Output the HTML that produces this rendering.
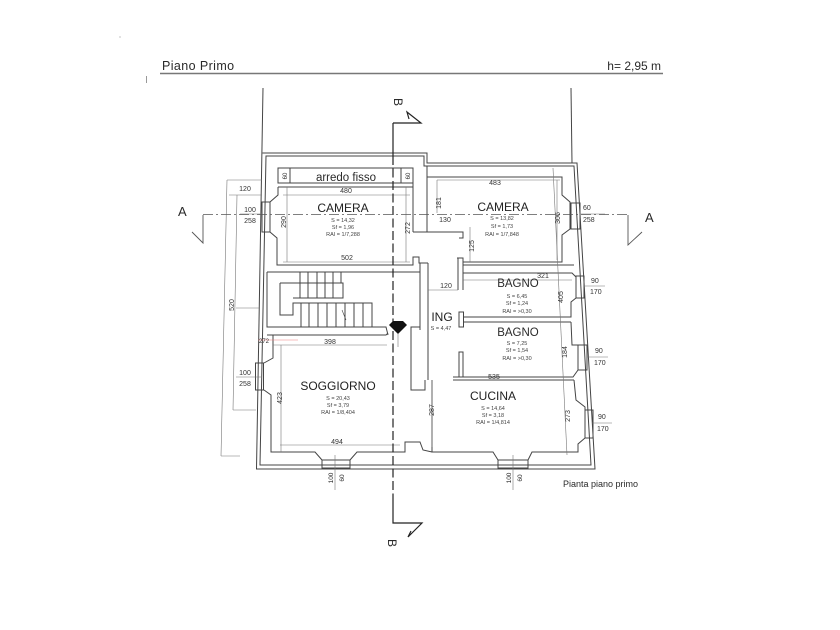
<!DOCTYPE html>
<html><head><meta charset="utf-8"><style>
html,body{margin:0;padding:0;background:#fff;}
svg{display:block}
text{font-family:"Liberation Sans",sans-serif;fill:#2a2a2a}
.d{font-size:7px;fill:#333}
.s{font-size:5.5px;fill:#444}
.r{font-size:12px;fill:#222}
</style></head><body>
<svg width="840" height="630" viewBox="0 0 840 630" xmlns="http://www.w3.org/2000/svg">
<!-- header -->
<text x="162" y="70" font-size="12.5" letter-spacing="0.4" fill="#444">Piano Primo</text>
<text x="661" y="70" font-size="12" text-anchor="end" fill="#444">h= 2,95 m</text>
<line x1="160" y1="73.5" x2="663" y2="73.5" stroke="#777" stroke-width="1.6"/>
<line x1="146.5" y1="76" x2="146.5" y2="83" stroke="#999" stroke-width="1"/>
<circle cx="120" cy="37" r="0.6" fill="#999"/>

<g fill="none" stroke="#444" stroke-width="1">
<!-- outer walls -->
<path d="M263,88 L256.5,469 L595,469 L577,163 L427,163 L427,153 L262.5,153"/>
<path d="M266,156 L424,156 L424,166 L574,166 L591,465 L260,465 Z"/>
<path d="M571,88 L572,163"/>

<!-- camera left -->
<rect x="278" y="168" width="135" height="15"/>
<path d="M290,168 V183 M401,168 V183 M278,187 H413"/>
<path d="M278,187 V195 L270,202 V232 L277,238 V265 H413 M413,168 V232"/>
<rect x="262" y="202" width="8" height="30"/>
<path d="M405,265 H413 V257 H419 V263 H428"/>
<path d="M413,232 H463 V238 H459"/>
<path d="M427,166 V232"/>

<!-- camera right -->
<path d="M427,177 H562 V195 L570,202 V229 L562,235 V262 H463"/>
<rect x="571" y="203" width="9" height="26"/>
<path d="M457,258 H463 V265 H574 M458,258 V290 M463,265 V290"/>

<!-- bagno 1 -->
<path d="M463,273 H572 L576,277 M576,298 L571,302 V317 H463 M463,322 H571"/>
<rect x="576" y="276" width="8" height="22"/>
<rect x="459" y="312" width="4.5" height="15"/>

<!-- bagno 2 -->
<path d="M571,322 L572,345 H578 M578,370 L573,377 H453 M453,380 H574"/>
<rect x="578" y="345" width="9" height="25"/>
<rect x="459" y="352" width="4" height="25"/>

<!-- cucina -->
<path d="M574,380 L576,400 L585,407 V410 M585,438 L578,444 V452 H532 L528,460 M498,460 L493,452 H432 V380"/>
<rect x="585" y="410" width="8" height="28"/>
<rect x="498" y="460" width="30" height="8"/>

<!-- corridor walls -->
<path d="M428,263 V380 M420,263 V330 M420,327 H411 V390 H425 V380"/>

<!-- stairs -->
<path d="M267,272 H420 M267,272 V327 H386 L388,335"/>
<path d="M280,283 H343 V298 H293 M280,283 V315 H293 V303 H372 V327"/>
<path d="M300,272 V298 M308,272 V298 M317,272 V298 M325,272 V298 M333,272 V298 M341,272 V283"/>
<path d="M301,303 V327 M309,303 V327 M318,303 V327 M327,303 V327 M336,303 V327 M345,303 V327 M354,303 V327 M363,303 V327"/>
<path d="M346,320 L342,310" stroke-width="0.6"/>

<!-- soggiorno -->
<path d="M267,335 H386 L388,333"/>
<path d="M273,335 V358 L264,363 M264,390 L271,395 V452 H315 L322,460 M350,460 L357,452 H405 V442 H420 L423,450 L432,452"/>
<rect x="255.5" y="363" width="8" height="27"/>
<rect x="322" y="460" width="28" height="8"/>
</g>

<!-- dimension lines -->
<g fill="none" stroke="#777" stroke-width="0.6">
<path d="M283,195 H410 M287,187 V262 M406,187 V262 M283,262 H410"/>
<path d="M227,180 H262 M229,195 H262 M227,180 L221,456 M237,195 L233,410 M233,410 H256 M221,456 H240 M236,308 H259 M236,377 H262 M240,214 H262"/>
<path d="M273,345 H387 M281,345 V452 M280,445 H400"/>
<path d="M437,180 H560 M437,180 V213 M470,227 V262 M557,180 V260"/>
<path d="M428,290 H458 M463,280 H572"/>
<path d="M432,380 V447"/>
<path d="M553,168 L567,455"/>
<path d="M580,214 H605 M584,286 H605 M587,357 H608 M592,423 H612"/>
<path d="M335,455 V490 M513,455 V490"/>
<path d="M398,334 V347"/>
</g>
<path d="M258,340 H298" stroke="#f08080" stroke-width="0.6"/>
<text x="259" y="343" font-size="6" fill="#e05050">272</text>

<!-- section B -->
<g fill="none" stroke="#222" stroke-width="1.2">
<path d="M393,123 V156 M393,497 V523 H422 L408,537 L411,531 M393,123 H421 L407,112 L409,119"/>
<path d="M393,156 V497" stroke-dasharray="9,3.5"/>
</g>
<polygon points="389,325 393,321 403,321 407,325 398,334" fill="#111"/>
<text transform="translate(394,102) rotate(90)" font-size="12" text-anchor="middle">B</text>
<text transform="translate(388,543) rotate(90)" font-size="12" text-anchor="middle">B</text>

<!-- section A -->
<g fill="none" stroke="#555" stroke-width="0.9">
<path d="M203,215 V243 L192,232 M628,215 V245 L642,232"/>
<path d="M203,214.5 H628" stroke-dasharray="10,3,2,3" stroke-width="0.8"/>
</g>
<text x="178" y="216" font-size="13" fill="#222">A</text>
<text x="645" y="222" font-size="13" fill="#222">A</text>

<!-- room labels -->
<text x="346" y="181" font-size="11.5" text-anchor="middle" fill="#222">arredo fisso</text>
<text x="343" y="212" class="r" text-anchor="middle">CAMERA</text>
<text x="343" y="222" class="s" text-anchor="middle">S = 14,32</text>
<text x="343" y="229" class="s" text-anchor="middle">Sf = 1,96</text>
<text x="343" y="236" class="s" text-anchor="middle">RAI = 1/7,288</text>

<text x="503" y="211" class="r" text-anchor="middle">CAMERA</text>
<text x="502" y="220" class="s" text-anchor="middle">S = 13,82</text>
<text x="502" y="228" class="s" text-anchor="middle">Sf = 1,73</text>
<text x="502" y="236" class="s" text-anchor="middle">RAI = 1/7,848</text>

<text x="518" y="287" font-size="11.5" text-anchor="middle" fill="#222">BAGNO</text>
<text x="517" y="298" class="s" text-anchor="middle">S = 6,45</text>
<text x="517" y="305" class="s" text-anchor="middle">Sf = 1,24</text>
<text x="517" y="313" class="s" text-anchor="middle">RAI = &gt;0,30</text>

<text x="518" y="336" font-size="11.5" text-anchor="middle" fill="#222">BAGNO</text>
<text x="517" y="345" class="s" text-anchor="middle">S = 7,25</text>
<text x="517" y="352" class="s" text-anchor="middle">Sf = 1,54</text>
<text x="517" y="360" class="s" text-anchor="middle">RAI = &gt;0,30</text>

<text x="442" y="321" class="r" text-anchor="middle">ING</text>
<text x="441" y="330" class="s" text-anchor="middle">S = 4,47</text>

<text x="338" y="390" class="r" text-anchor="middle">SOGGIORNO</text>
<text x="338" y="400" class="s" text-anchor="middle">S = 20,43</text>
<text x="338" y="407" class="s" text-anchor="middle">Sf = 3,79</text>
<text x="338" y="414" class="s" text-anchor="middle">RAI = 1/8,404</text>

<text x="493" y="400" class="r" text-anchor="middle">CUCINA</text>
<text x="493" y="410" class="s" text-anchor="middle">S = 14,64</text>
<text x="493" y="417" class="s" text-anchor="middle">Sf = 3,18</text>
<text x="493" y="424" class="s" text-anchor="middle">RAI = 1/4,814</text>

<!-- dimension texts -->
<text x="346" y="193" class="d" text-anchor="middle">480</text>
<text x="347" y="260" class="d" text-anchor="middle">502</text>
<text x="330" y="344" class="d" text-anchor="middle">398</text>
<text x="337" y="444" class="d" text-anchor="middle">494</text>
<text x="495" y="185" class="d" text-anchor="middle">483</text>
<text x="445" y="222" class="d" text-anchor="middle">130</text>
<text x="446" y="288" class="d" text-anchor="middle">120</text>
<text x="543" y="278" class="d" text-anchor="middle">321</text>
<text x="494" y="379" class="d" text-anchor="middle">535</text>
<text x="245" y="191" class="d" text-anchor="middle">120</text>
<text x="250" y="212" class="d" text-anchor="middle">100</text>
<text x="250" y="223" class="d" text-anchor="middle">258</text>
<text x="245" y="375" class="d" text-anchor="middle">100</text>
<text x="245" y="386" class="d" text-anchor="middle">258</text>
<text x="583" y="210" class="d">60</text>
<text x="583" y="222" class="d">258</text>
<text x="591" y="283" class="d">90</text>
<text x="590" y="294" class="d">170</text>
<text x="595" y="353" class="d">90</text>
<text x="594" y="365" class="d">170</text>
<text x="598" y="419" class="d">90</text>
<text x="597" y="431" class="d">170</text>

<text transform="translate(286,222) rotate(-90)" class="d" text-anchor="middle">290</text>
<text transform="translate(410,228) rotate(-90)" class="d" text-anchor="middle">272</text>
<text transform="translate(287,176) rotate(-90)" font-size="6" text-anchor="middle" fill="#333">60</text>
<text transform="translate(410,176) rotate(-90)" font-size="6" text-anchor="middle" fill="#333">60</text>
<text transform="translate(234,305) rotate(-90)" class="d" text-anchor="middle">520</text>
<text transform="translate(282,398) rotate(-90)" class="d" text-anchor="middle">423</text>
<text transform="translate(434,410) rotate(-90)" class="d" text-anchor="middle">287</text>
<text transform="translate(441,203) rotate(-90)" class="d" text-anchor="middle">181</text>
<text transform="translate(474,246) rotate(-90)" class="d" text-anchor="middle">125</text>
<text transform="translate(560,218) rotate(-90)" class="d" text-anchor="middle">306</text>
<text transform="translate(563,297) rotate(-90)" class="d" text-anchor="middle">405</text>
<text transform="translate(567,352) rotate(-90)" class="d" text-anchor="middle">184</text>
<text transform="translate(570,416) rotate(-90)" class="d" text-anchor="middle">273</text>
<text transform="translate(333,478) rotate(-90)" font-size="6.5" text-anchor="middle" fill="#333">100</text>
<text transform="translate(344,478) rotate(-90)" font-size="6.5" text-anchor="middle" fill="#333">60</text>
<text transform="translate(511,478) rotate(-90)" font-size="6.5" text-anchor="middle" fill="#333">100</text>
<text transform="translate(522,478) rotate(-90)" font-size="6.5" text-anchor="middle" fill="#333">60</text>

<text x="563" y="487" font-size="9" fill="#333">Pianta piano primo</text>
</svg>
</body></html>
